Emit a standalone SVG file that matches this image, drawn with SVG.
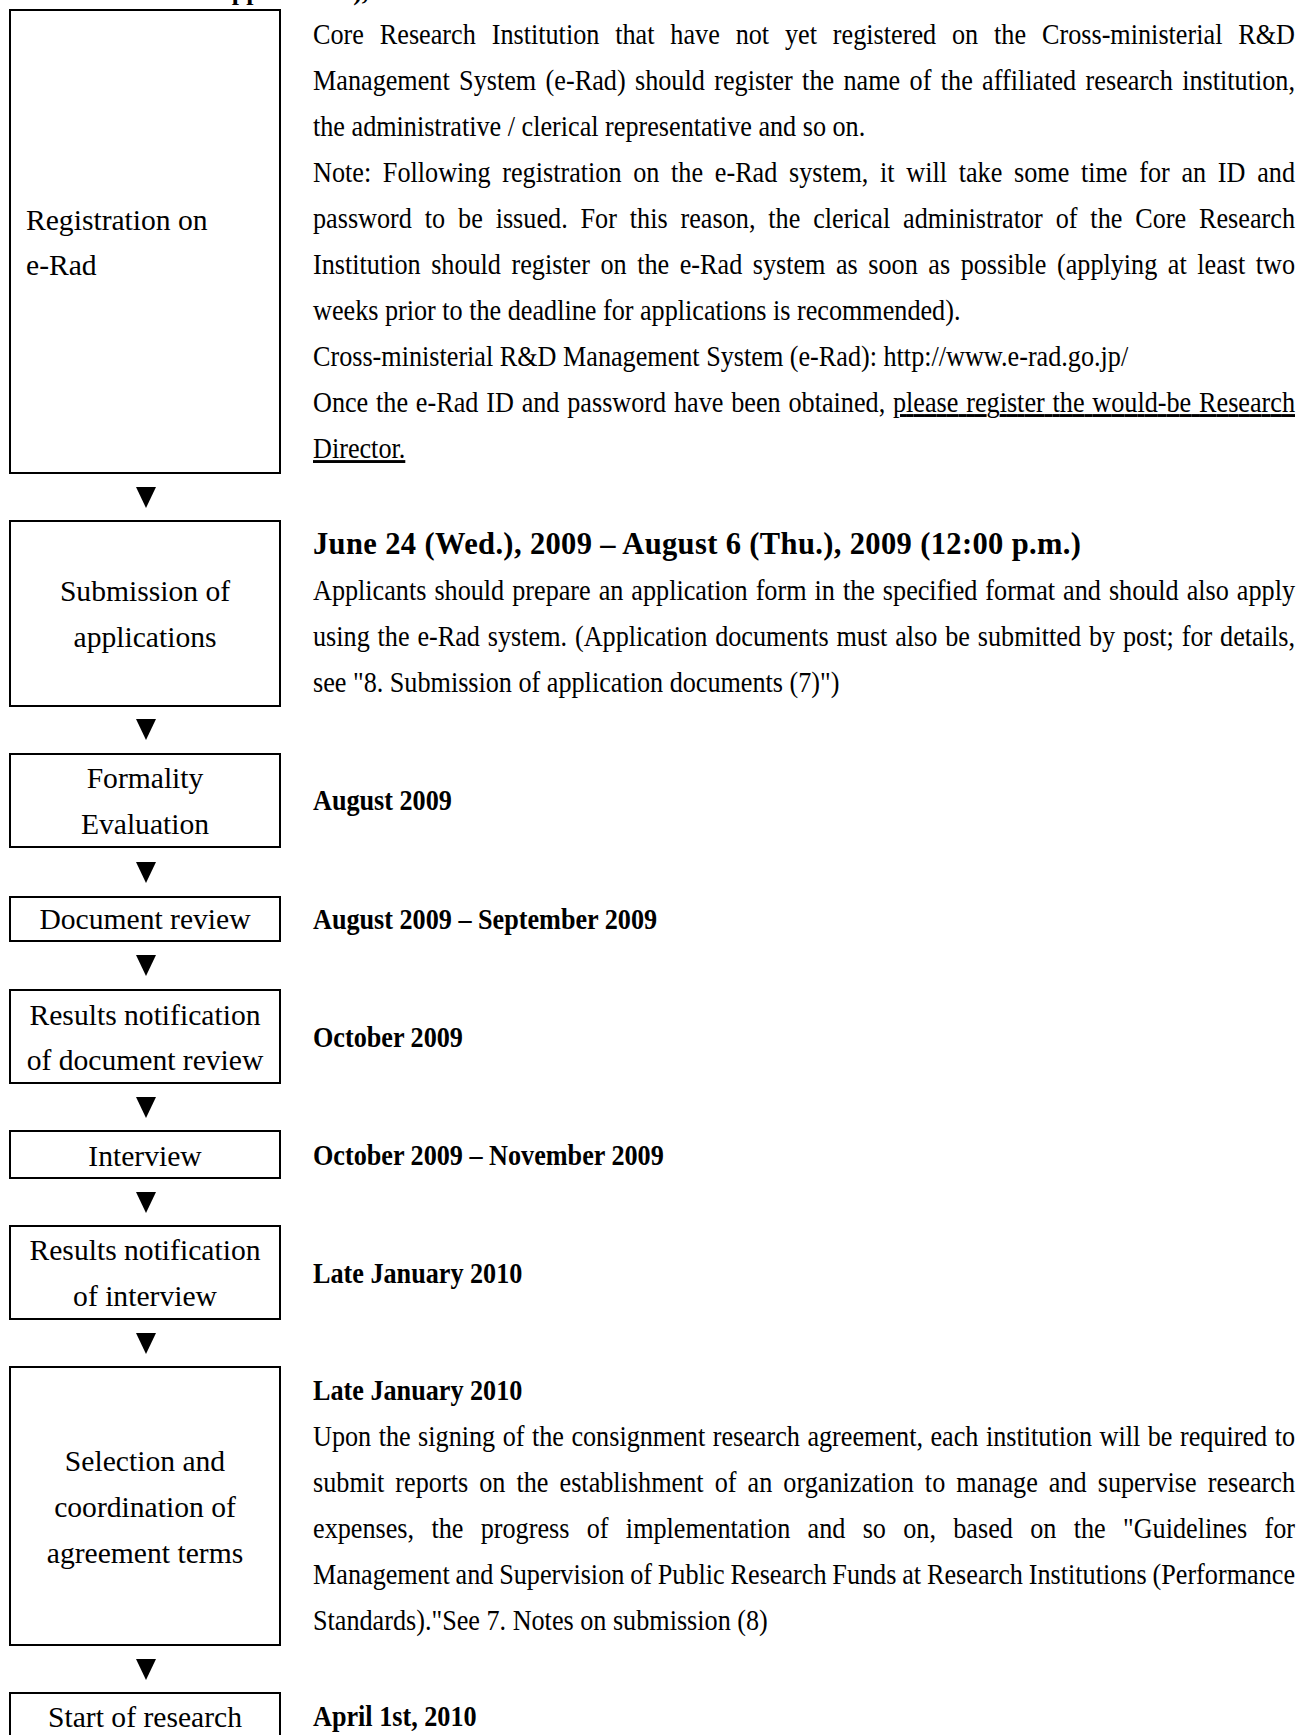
<svg xmlns="http://www.w3.org/2000/svg" width="1300" height="1735" viewBox="0 0 1300 1735">
<style>
text{font-family:"Liberation Serif","Times New Roman",serif;fill:#000}
.box{fill:#fff;stroke:#000;stroke-width:2}
.lbl{font-size:29.6px;text-anchor:middle}
.lbll{font-size:29.6px}
.body{font-size:29px}
.date{font-size:29px;font-weight:bold}
.head{font-size:30.5px;font-weight:bold}
.top{font-size:26px;font-weight:bold}
.arr{fill:#000}
.u{text-decoration:underline}
</style>
<rect width="1300" height="1735" fill="#fff"/>
<text class="top" x="213" y="-0.5">Applications),</text>

<g id="connectors">
<polygon class="arr" points="136,487 156,487 146,508"/>
<polygon class="arr" points="136,719 156,719 146,740"/>
<polygon class="arr" points="136,862 156,862 146,883"/>
<polygon class="arr" points="136,955 156,955 146,976"/>
<polygon class="arr" points="136,1097 156,1097 146,1118"/>
<polygon class="arr" points="136,1192 156,1192 146,1213"/>
<polygon class="arr" points="136,1333 156,1333 146,1354"/>
<polygon class="arr" points="136,1659 156,1659 146,1680"/>
</g>

<g id="n1">
<rect class="box" x="10" y="10" width="270" height="463"/>
<text class="lbll" x="26" y="230">Registration on</text>
<text class="lbll" x="26" y="275">e-Rad</text>
<g transform="translate(313 0) scale(0.903 1)">
<text class="body" x="0" y="44" word-spacing="10.3" textLength="1087.5" lengthAdjust="spacing">Core Research Institution that have not yet registered on the Cross-ministerial R&amp;D</text>
<text class="body" x="0" y="90" word-spacing="3.1" textLength="1087.5" lengthAdjust="spacing">Management System (e-Rad) should register the name of the affiliated research institution,</text>
<text class="body" x="0" y="136">the administrative / clerical representative and so on.</text>
<text class="body" x="0" y="182" word-spacing="5.7" textLength="1087.5" lengthAdjust="spacing">Note: Following registration on the e-Rad system, it will take some time for an ID and</text>
<text class="body" x="0" y="228" word-spacing="7" textLength="1087.5" lengthAdjust="spacing">password to be issued. For this reason, the clerical administrator of the Core Research</text>
<text class="body" x="0" y="274" word-spacing="4.4" textLength="1087.5" lengthAdjust="spacing">Institution should register on the e-Rad system as soon as possible (applying at least two</text>
<text class="body" x="0" y="320">weeks prior to the deadline for applications is recommended).</text>
<text class="body" x="0" y="366">Cross-ministerial R&amp;D Management System (e-Rad): http://www.e-rad.go.jp/</text>
<text class="body" x="0" y="412" word-spacing="1.4" textLength="1087.5" lengthAdjust="spacing">Once the e-Rad ID and password have been obtained, <tspan class="u">please register the would-be Research</tspan></text>
<text class="body u" x="0" y="458">Director.</text>
</g>
</g>

<g id="n2">
<rect class="box" x="10" y="521" width="270" height="185"/>
<text class="lbl" x="145" y="601">Submission of</text>
<text class="lbl" x="145" y="647">applications</text>
<text class="head" x="313" y="554" textLength="768" lengthAdjust="spacing">June 24 (Wed.), 2009 – August 6 (Thu.), 2009 (12:00 p.m.)</text>
<g transform="translate(313 0) scale(0.903 1)">
<text class="body" x="0" y="600" word-spacing="1.6" textLength="1087.5" lengthAdjust="spacing">Applicants should prepare an application form in the specified format and should also apply</text>
<text class="body" x="0" y="646" word-spacing="1.4" textLength="1087.5" lengthAdjust="spacing">using the e-Rad system. (Application documents must also be submitted by post; for details,</text>
<text class="body" x="0" y="692">see "8. Submission of application documents (7)")</text>
</g>
</g>

<g id="n3">
<rect class="box" x="10" y="754" width="270" height="93"/>
<text class="lbl" x="145" y="788">Formality</text>
<text class="lbl" x="145" y="834">Evaluation</text>
<text class="date" transform="translate(313 810) scale(0.903 1)">August 2009</text>
</g>

<g id="n4">
<rect class="box" x="10" y="897" width="270" height="44"/>
<text class="lbl" x="145" y="929">Document review</text>
<text class="date" transform="translate(313 929) scale(0.903 1)">August 2009 – September 2009</text>
</g>

<g id="n5">
<rect class="box" x="10" y="990" width="270" height="93"/>
<text class="lbl" x="145" y="1025">Results notification</text>
<text class="lbl" x="145" y="1070">of document review</text>
<text class="date" transform="translate(313 1047) scale(0.903 1)">October 2009</text>
</g>

<g id="n6">
<rect class="box" x="10" y="1131" width="270" height="47"/>
<text class="lbl" x="145" y="1166">Interview</text>
<text class="date" transform="translate(313 1165) scale(0.903 1)">October 2009 – November 2009</text>
</g>

<g id="n7">
<rect class="box" x="10" y="1226" width="270" height="93"/>
<text class="lbl" x="145" y="1260">Results notification</text>
<text class="lbl" x="145" y="1306">of interview</text>
<text class="date" transform="translate(313 1283) scale(0.903 1)">Late January 2010</text>
</g>

<g id="n8">
<rect class="box" x="10" y="1367" width="270" height="278"/>
<text class="lbl" x="145" y="1471">Selection and</text>
<text class="lbl" x="145" y="1517">coordination of</text>
<text class="lbl" x="145" y="1563">agreement terms</text>
<g transform="translate(313 0) scale(0.903 1)">
<text class="date" x="0" y="1400">Late January 2010</text>
<text class="body" x="0" y="1446" word-spacing="1" textLength="1087.5" lengthAdjust="spacing">Upon the signing of the consignment research agreement, each institution will be required to</text>
<text class="body" x="0" y="1492" word-spacing="5" textLength="1087.5" lengthAdjust="spacing">submit reports on the establishment of an organization to manage and supervise research</text>
<text class="body" x="0" y="1538" word-spacing="11.9" textLength="1087.5" lengthAdjust="spacing">expenses, the progress of implementation and so on, based on the "Guidelines for</text>
<text class="body" x="0" y="1584" word-spacing="-0.8" textLength="1087.5" lengthAdjust="spacing">Management and Supervision of Public Research Funds at Research Institutions (Performance</text>
<text class="body" x="0" y="1630">Standards)."See 7. Notes on submission (8)</text>
</g>
</g>

<g id="n9">
<rect class="box" x="10" y="1693" width="270" height="60"/>
<text class="lbl" x="145" y="1727">Start of research</text>
<text class="date" transform="translate(313 1726) scale(0.903 1)">April 1st, 2010</text>
</g>
</svg>
